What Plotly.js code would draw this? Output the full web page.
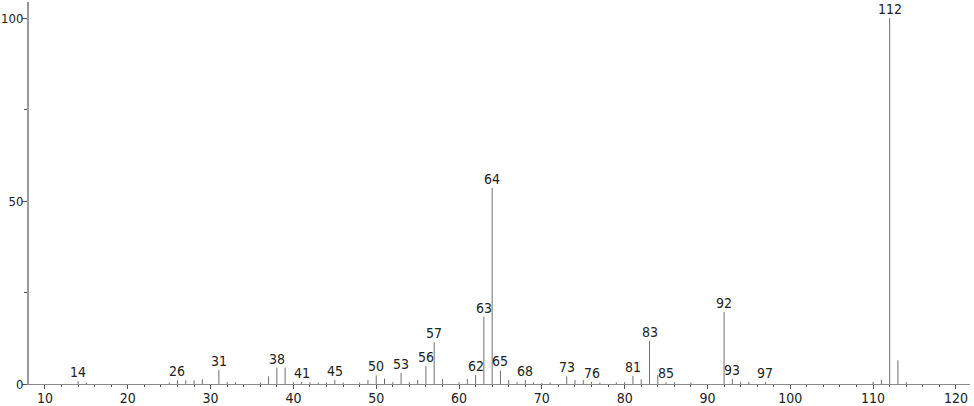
<!DOCTYPE html>
<html>
<head>
<meta charset="utf-8">
<script src="https://cdn.plot.ly/plotly-3.0.1.min.js"></script>
<style>html,body{margin:0;padding:0;background:#fff;}#chart{width:974px;height:406px;}</style>
</head>
<body>
<div id="chart"></div>
<script>
// m/z values and relative intensities
const mz = [14,15,25,26,27,28,29,31,32,33,36,37,38,39,40,41,42,43,44,45,46,48,49,50,51,52,53,54,55,56,57,58,60,61,62,63,64,65,66,67,68,69,70,71,73,74,75,76,77,79,80,81,82,83,84,85,86,88,92,93,94,95,97,110,111,112,113,114];
const intensity = [0.8,0.4,0.4,1.0,1.0,1.0,1.3,3.9,0.5,0.5,0.4,2.1,4.5,4.5,0.5,0.6,0.5,0.4,0.4,1.1,0.4,0.4,1.1,2.4,1.5,0.5,3.0,0.5,1.1,4.9,11.4,1.4,0.5,1.4,2.5,18.4,53.6,3.7,1.1,0.5,1.1,0.5,0.3,0.4,2.1,1.1,1.1,0.6,0.4,0.4,0.5,2.2,1.3,11.8,2.4,0.5,0.5,0.4,19.7,1.4,0.6,0.6,0.5,0.6,1.2,100,6.5,0.5];
// peaks that carry a text label
const labeledPeaks = [14,26,31,38,41,45,50,53,56,57,62,63,64,65,68,73,76,81,83,85,92,93,97,112];
// axis ticks
const xTickVals = [10,20,30,40,50,60,70,80,90,100,110,120];
const yTickVals = [0,50,100];

const lx = [], ly = [];
mz.forEach((m, i) => { lx.push(m, m, null); ly.push(0, intensity[i], null); });

const peaks = {
  x: lx, y: ly, type: 'scatter', mode: 'lines',
  line: {color: '#707070', width: 1}, hoverinfo: 'skip', showlegend: false
};

const font = "'DejaVu Sans Condensed', 'DejaVu Sans', sans-serif";
const annotations = labeledPeaks.map(m => ({
  x: m, y: intensity[mz.indexOf(m)], xref: 'x', yref: 'y',
  text: String(m), showarrow: false, yanchor: 'middle', xanchor: 'center',
  yshift: 9, font: {family: font, size: 14, color: '#222'}
}));

const layout = {
  width: 974, height: 406,
  margin: {l: 29, r: 4, t: 2, b: 22, pad: 0},
  paper_bgcolor: '#fff', plot_bgcolor: '#fff',
  showlegend: false,
  xaxis: {
    range: [8.07, 121.7], showgrid: false, zeroline: false,
    showline: true, linecolor: '#8a8a8a', linewidth: 1,
    tickmode: 'array', tickvals: xTickVals, ticktext: xTickVals.map(String),
    ticks: 'outside', ticklen: 4, tickcolor: '#555', tickwidth: 1,
    ticklabelstandoff: -3,
    minor: {dtick: 2, tick0: 0, ticks: 'outside', ticklen: 2, tickcolor: '#555', tickwidth: 1, showgrid: false},
    tickfont: {family: font, size: 14, color: '#222'}
  },
  yaxis: {
    range: [0, 104.4], showgrid: false, zeroline: false,
    showline: true, linecolor: '#9a9a9a', linewidth: 2,
    tickmode: 'array', tickvals: yTickVals, ticktext: yTickVals.map(String),
    ticks: 'outside', ticklen: 5, tickcolor: '#555', tickwidth: 1,
    ticklabelstandoff: -4,
    minor: {tickvals: [25, 75], ticks: 'outside', ticklen: 3, tickcolor: '#555', tickwidth: 1, showgrid: false},
    tickfont: {family: font, size: 13, color: '#222'}
  },
  annotations: annotations
};

Plotly.newPlot('chart', [peaks], layout, {staticPlot: true, displayModeBar: false});
</script>
</body>
</html>
